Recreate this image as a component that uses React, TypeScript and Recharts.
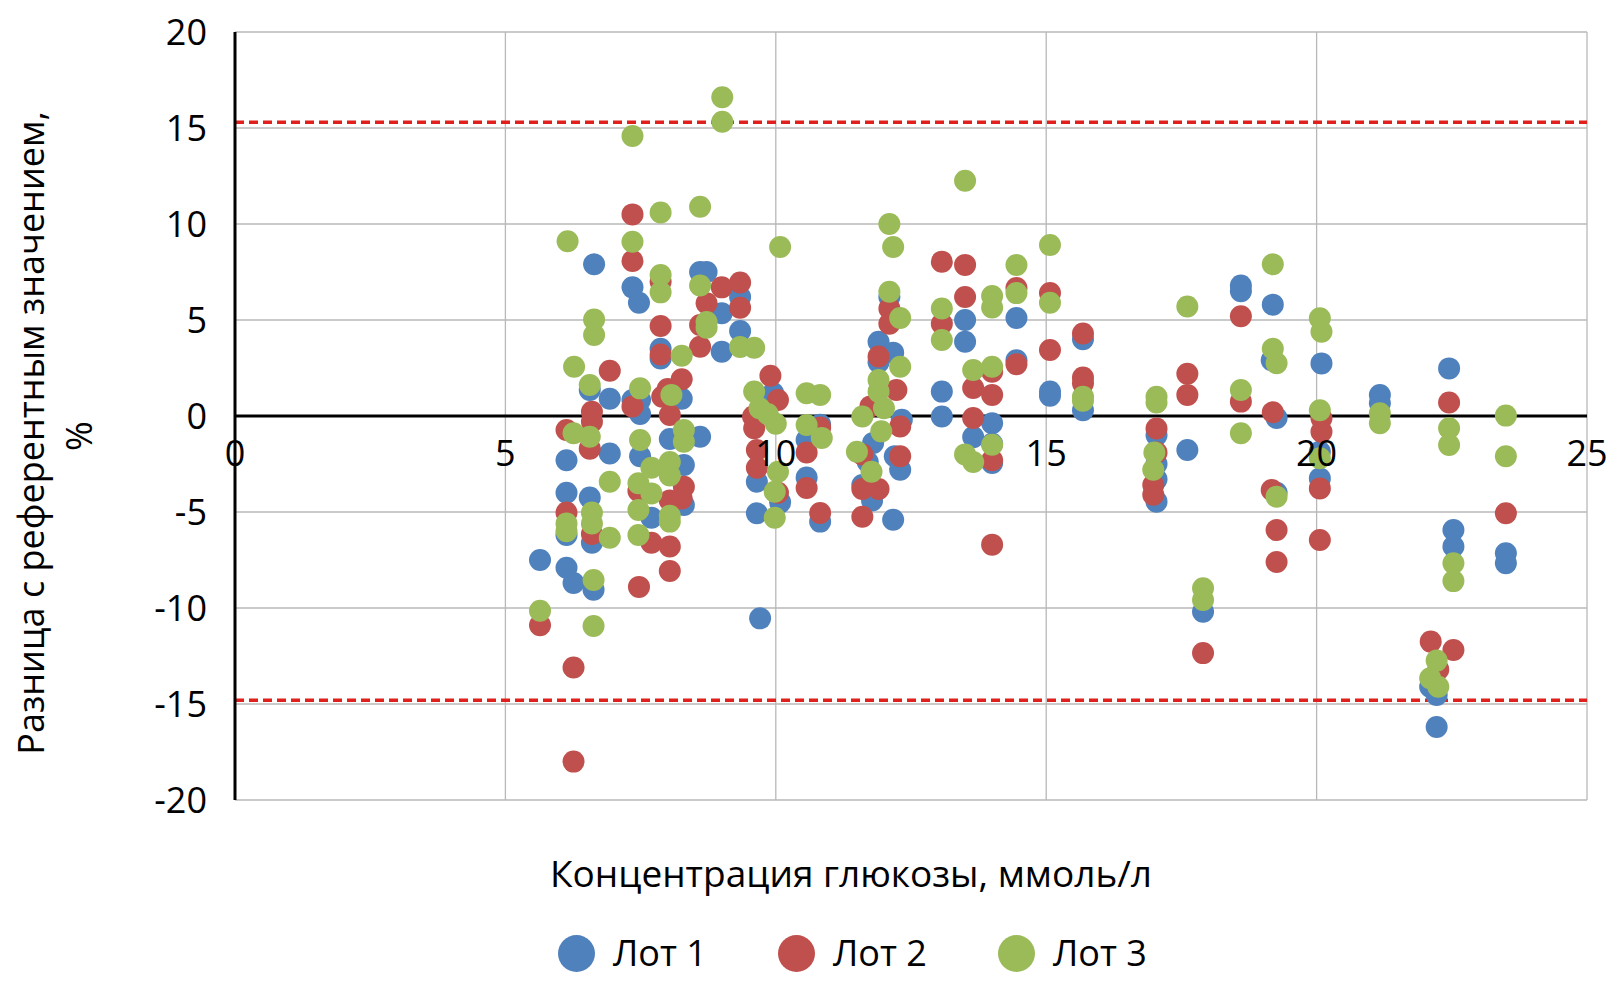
import { CartesianGrid, ReferenceLine, Scatter, ScatterChart, XAxis, YAxis } from "recharts";

// glucose concentration (mmol/L) vs. difference from reference (%)
const X_TICKS = [0, 5, 10, 15, 20, 25];
const Y_TICKS = [-20, -15, -10, -5, 0, 5, 10, 15, 20];
const UPPER_LIMIT = 15.3;
const LOWER_LIMIT = -14.8;

const LOT_1: [number, number][] = [
  [5.64, -7.5], [6.13, -2.3], [6.13, -4.0], [6.13, -6.2], [6.13, -7.9], [6.26, -8.7],
  [6.64, 7.9], [6.56, 1.35], [6.56, -4.25], [6.6, -6.6], [6.63, -9.05], [6.93, 0.9],
  [6.93, -1.95], [7.35, 6.7], [7.47, 5.9], [7.35, 0.83], [7.49, 0.83], [7.49, 0.1],
  [7.49, -2.1], [7.7, -5.3], [7.87, 3.5], [7.87, 3.0], [8.04, -1.2], [8.26, 0.9],
  [8.3, -0.9], [8.3, -2.55], [8.3, -4.64], [8.6, 7.5], [8.72, 7.5], [8.6, -1.08],
  [9.0, 5.35], [9.0, 3.35], [9.34, 6.2], [9.34, 4.43], [9.65, -3.42], [9.65, -5.07],
  [9.71, -10.54], [9.95, 1.2], [10.08, -4.5], [10.57, -1.25], [10.57, -3.2], [10.82, -0.45],
  [10.82, -5.5], [11.7, -2.4], [11.6, -3.6], [11.9, 3.87], [11.9, 2.8], [12.17, 3.3],
  [11.8, -1.4], [11.78, -4.4], [12.1, 6.2], [12.2, -2.1], [12.17, -5.4], [12.33, -0.2],
  [12.3, -2.8], [13.07, 1.27], [13.07, -0.03], [13.5, 5.0], [13.5, 3.87], [13.65, -1.1],
  [14.0, -0.38], [14.0, -1.45], [14.0, -2.45], [14.45, 5.1], [14.45, 2.9], [15.07, 1.27],
  [15.07, 1.05], [15.68, 4.0], [15.68, 0.3], [17.04, -1.0], [17.04, -2.5], [17.04, -3.3],
  [17.04, -4.46], [17.61, -1.77], [17.9, -10.2], [18.6, 6.8], [18.6, 6.5], [19.19, 5.8],
  [19.17, 2.9], [19.26, -0.1], [19.26, -4.0], [20.09, 2.74], [20.06, -1.86], [20.06, -3.25],
  [21.17, 1.09], [21.17, 0.66], [22.45, 2.48], [22.53, -5.94], [22.53, -6.8], [22.1, -14.1],
  [22.22, -14.53], [22.22, -16.2], [23.5, -7.15], [23.5, -7.67],
];

const LOT_2: [number, number][] = [
  [5.64, -10.9], [6.13, -0.73], [6.13, -5.03], [6.26, -13.1], [6.26, -18.0], [6.6, 0.22],
  [6.6, -0.3], [6.56, -1.7], [6.6, -6.15], [6.93, 2.36], [7.35, 10.5], [7.35, 8.07],
  [7.35, 0.5], [7.46, -3.9], [7.47, -8.9], [7.7, -6.6], [7.87, 7.0], [7.87, 4.69],
  [7.87, 3.2], [7.9, 1.0], [8.0, 1.4], [8.04, 0.05], [8.04, -4.4], [8.04, -6.8],
  [8.04, -8.07], [8.26, 1.91], [8.3, -3.68], [8.26, -4.3], [8.6, 4.74], [8.6, 3.61],
  [8.72, 5.87], [9.0, 6.7], [9.34, 6.95], [9.34, 5.64], [9.58, -0.03], [9.6, -0.64],
  [9.65, -1.77], [9.65, -2.7], [9.9, 2.1], [10.04, 0.83], [10.04, -4.0], [10.57, -1.9],
  [10.57, -3.75], [10.82, -0.6], [10.82, -5.05], [11.6, -5.25], [11.6, -3.8], [11.9, -3.8],
  [11.75, 0.5], [11.6, -2.0], [11.9, 3.1], [12.1, 5.6], [12.1, 4.8], [12.23, 1.35],
  [12.3, -0.55], [12.3, -2.1], [13.07, 8.04], [13.07, 4.8], [13.5, 7.87], [13.5, 6.2],
  [13.65, 1.46], [13.65, -0.1], [14.0, 1.1], [14.0, 2.3], [14.0, -2.3], [14.0, -6.7],
  [14.45, 6.67], [14.45, 2.7], [15.07, 6.4], [15.07, 3.44], [15.68, 4.3], [15.68, 2.0],
  [15.68, 1.7], [17.04, -0.65], [17.04, -1.9], [16.98, -3.6], [16.98, -4.1], [17.61, 2.2],
  [17.61, 1.1], [17.9, -12.35], [18.6, 5.2], [18.6, 0.75], [19.19, 0.2], [19.17, -3.85],
  [19.26, -5.94], [19.26, -7.6], [20.09, -0.12], [20.09, -0.82], [20.06, -3.77], [20.06, -6.46],
  [22.45, 0.7], [22.53, -12.19], [22.11, -11.75], [22.25, -13.2], [23.5, -5.07],
];

const LOT_3: [number, number][] = [
  [5.64, -10.14], [6.15, 9.1], [6.13, -5.6], [6.13, -6.0], [6.27, 2.57], [6.26, -0.9],
  [6.64, 5.03], [6.64, 4.22], [6.56, 1.61], [6.56, -1.08], [6.6, -5.03], [6.6, -5.6],
  [6.63, -8.54], [6.63, -10.94], [6.93, -3.42], [6.93, -6.34], [7.35, 14.58], [7.35, 9.08],
  [7.49, 1.44], [7.49, -1.25], [7.46, -3.5], [7.46, -4.9], [7.46, -6.2], [7.7, -2.7],
  [7.7, -4.03], [7.87, 10.6], [7.87, 7.34], [7.87, 6.44], [8.07, 1.1], [8.04, -2.4],
  [8.04, -3.1], [8.04, -5.5], [8.04, -5.2], [8.26, 3.14], [8.3, -0.73], [8.3, -1.34],
  [8.6, 10.9], [8.6, 6.8], [8.72, 4.9], [8.72, 4.6], [9.01, 16.6], [9.01, 15.33],
  [9.34, 3.6], [9.6, 3.55], [9.6, 1.27], [9.7, 0.4], [9.85, 0.1], [10.0, -0.4],
  [10.08, 8.8], [10.04, -2.9], [9.98, -3.95], [9.98, -5.3], [10.57, 1.18], [10.82, 1.1],
  [10.57, -0.47], [10.85, -1.15], [11.6, -0.03], [11.5, -1.86], [11.77, -2.9], [11.9, 1.87],
  [11.9, 1.27], [12.0, 0.4], [11.95, -0.8], [12.1, 10.0], [12.17, 8.8], [12.1, 6.47],
  [12.3, 5.1], [12.3, 2.57], [13.07, 5.6], [13.07, 3.96], [13.5, 12.25], [13.5, -2.0],
  [13.65, 2.4], [13.65, -2.4], [14.0, 6.25], [14.0, 5.65], [14.0, 2.57], [14.0, -1.5],
  [14.45, 7.86], [14.45, 6.4], [15.07, 8.9], [15.07, 5.9], [15.68, 1.0], [15.68, 0.8],
  [17.04, 1.0], [17.04, 0.7], [17.0, -1.9], [16.98, -2.8], [17.61, 5.7], [17.9, -8.97],
  [17.9, -9.58], [18.6, 1.35], [18.6, -0.9], [19.19, 7.9], [19.19, 3.5], [19.26, 2.75],
  [19.26, -4.2], [20.06, 5.09], [20.09, 4.39], [20.06, 0.3], [20.06, -2.2], [21.17, 0.14],
  [21.17, -0.38], [22.45, -0.64], [22.45, -1.51], [22.53, -7.67], [22.53, -8.6], [22.22, -12.74],
  [22.1, -13.66], [22.25, -14.1], [23.5, 0.02], [23.5, -2.1],
];

const LOTS = [
  { name: "Лот 1", color: "#4F81BD", points: LOT_1 },
  { name: "Лот 2", color: "#C0504D", points: LOT_2 },
  { name: "Лот 3", color: "#9BBB59", points: LOT_3 },
];

const W = 1607;
const H = 985;
const TOP = 32;
const LEFT = 235;
const RIGHT = 20;
const X_AXIS_H = 185;
const PLOT_H = H - TOP - X_AXIS_H;
const ZERO_Y = TOP + (PLOT_H * 20) / 40;
const FONT = "'Open Sans', 'Noto Sans', sans-serif";

function XTick({ x, payload }: any) {
  return (
    <text x={x} y={ZERO_Y + 50} textAnchor="middle" fontSize={36} fill="#000" fontFamily={FONT}>
      {payload.value}
    </text>
  );
}

export default function App() {
  return (
    <div style={{ position: "relative", width: W, height: H, fontFamily: FONT }}>
      <style>{"body{margin:0}"}</style>
      <ScatterChart width={W} height={H} margin={{ top: TOP, right: RIGHT, bottom: 0, left: 0 }}>
        <CartesianGrid stroke="#b8b8b8" strokeWidth={1.3} />
        <XAxis
          type="number"
          dataKey="x"
          domain={[0, 25]}
          ticks={X_TICKS}
          interval={0}
          height={X_AXIS_H}
          axisLine={false}
          tickLine={false}
          tick={<XTick />}
          label={{
            content: () => (
              <text x={851} y={887} textAnchor="middle" fontSize={37} fill="#000" fontFamily={FONT}>
                Концентрация глюкозы, ммоль/л
              </text>
            ),
          }}
        />
        <YAxis
          type="number"
          dataKey="y"
          domain={[-20, 20]}
          ticks={Y_TICKS}
          interval={0}
          width={LEFT}
          axisLine={{ stroke: "#000", strokeWidth: 3 }}
          tickLine={false}
          tickSize={0}
          tickMargin={28}
          tick={{ fontSize: 36, fill: "#000", fontFamily: FONT }}
          label={{
            content: () => (
              <g fontSize={36} fill="#000" fontFamily={FONT} textAnchor="middle">
                <text x={44} y={433} transform="rotate(-90 44 433)">
                  Разница с референтным значением,
                </text>
                <text x={92} y={436} transform="rotate(-90 92 436)">
                  %
                </text>
              </g>
            ),
          }}
        />
        <ReferenceLine y={0} stroke="#000" strokeWidth={3} />
        {LOTS.map((lot) => (
          <Scatter
            key={lot.name}
            name={lot.name}
            data={lot.points.map(([x, y]) => ({ x, y }))}
            isAnimationActive={false}
            shape={(p: any) => <circle cx={p.cx} cy={p.cy} r={11} fill={lot.color} />}
          />
        ))}
        <ReferenceLine y={UPPER_LIMIT} stroke="#E0201C" strokeWidth={3.5} strokeDasharray="9 5" />
        <ReferenceLine y={LOWER_LIMIT} stroke="#E0201C" strokeWidth={3.5} strokeDasharray="9 5" />
      </ScatterChart>
      <div style={{ position: "absolute", left: 558, top: 934, display: "flex" }}>
        {LOTS.map((lot) => (
          <div key={lot.name} style={{ width: 220, display: "flex", alignItems: "center", height: 38 }}>
            <svg width={37} height={37} style={{ marginRight: 18 }}>
              <circle cx={18.5} cy={18.5} r={18.5} fill={lot.color} />
            </svg>
            <span style={{ fontSize: 36, lineHeight: "38px", color: "#000" }}>{lot.name}</span>
          </div>
        ))}
      </div>
    </div>
  );
}
